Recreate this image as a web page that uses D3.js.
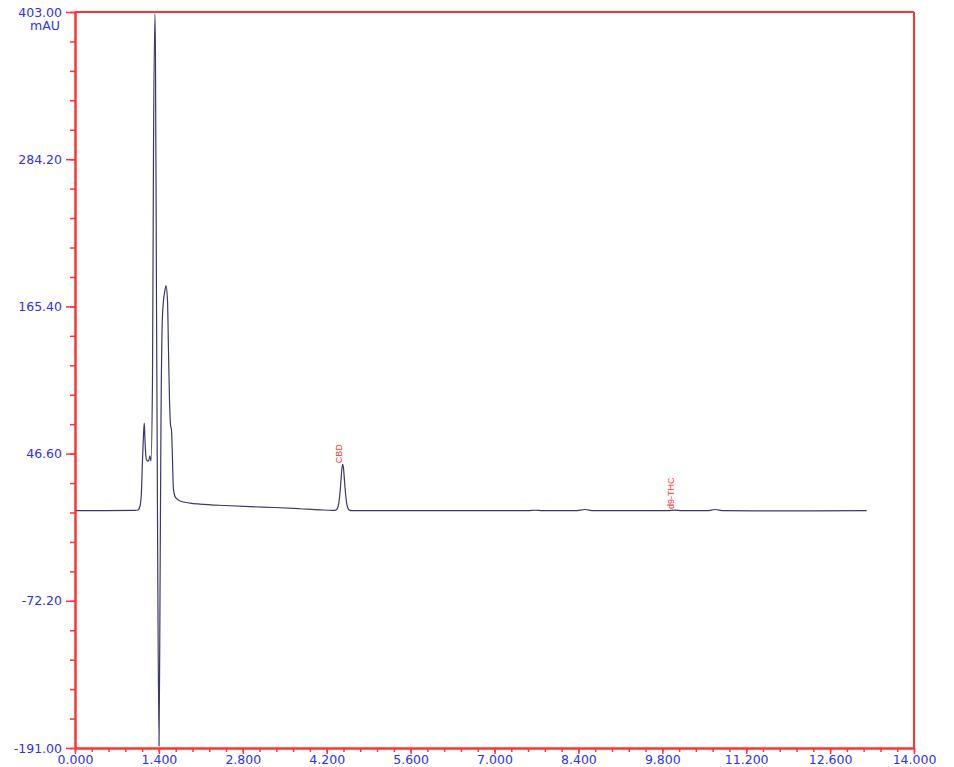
<!DOCTYPE html>
<html>
<head>
<meta charset="utf-8">
<script src="https://cdn.jsdelivr.net/npm/d3@7"></script>
<style>
  body { margin: 0; background: #fff; }
  .tick text { font-family: "DejaVu Sans", sans-serif; font-size: 12.5px; fill: #3030f0; }
</style>
</head>
<body>
<div id="chart"></div>
<script>
// chromatogram trace, time (min) and absorbance (mAU)
const traceTime = [0.02, 0.50, 1.00, 1.051, 1.085, 1.110, 1.126, 1.143, 1.156, 1.168, 1.181, 1.196, 1.226, 1.251, 1.268,
  1.293, 1.310, 1.335, 1.343, 1.360, 1.377, 1.402, 1.418, 1.435, 1.457, 1.473, 1.502, 1.518, 1.543, 1.560, 1.577,
  1.594, 1.610, 1.627, 1.640, 1.660, 1.685, 1.752, 1.919, 2.086, 2.503, 2.920, 3.337, 3.754, 4.088, 4.300,
  4.350, 4.380, 4.400, 4.420, 4.440, 4.455, 4.467, 4.480, 4.495, 4.515, 4.535, 4.555, 4.580, 4.620, 5.20, 6.00,
  7.00, 7.55, 7.68, 7.80, 8.35, 8.51, 8.65, 9.20, 9.90, 10.01, 10.12, 10.55, 10.68, 10.82, 11.50, 12.30, 13.21];
const traceAbs = [0.6, 0.6, 0.8, 1.1, 4.3, 17.2, 41.4, 61.6, 71.3, 57.6, 45.5, 41.4, 40.6, 44.7, 40.6,
  106.0, 291.6, 401.4, 364.3, 170.6, -7.0, -189.4, -71.5, 73.7, 154.4, 168.2, 178.6, 182.1, 170.6, 130.2, 89.9,
  69.7, 65.7, 41.4, 19.7, 13.2, 10.8, 8.4, 6.7, 5.9, 4.7, 3.8, 3.1, 2.1, 1.2, 0.8,
  1.0, 2.5, 6.0, 14.0, 26.0, 35.0, 38.0, 35.0, 26.0, 14.0, 6.0, 2.5, 1.0, 0.6, 0.6, 0.6,
  0.6, 0.6, 0.9, 0.6, 0.6, 1.5, 0.6, 0.5, 0.5, 1.0, 0.5, 0.5, 1.5, 0.5, 0.4, 0.4, 0.5];

// named peaks
const peakNames = ["CBD", "d9-THC"];
const peakTimes = [4.467, 10.01];
const peakHeights = [38.0, 1.0];

// axis ticks
const xTicks = [0, 1.4, 2.8, 4.2, 5.6, 7.0, 8.4, 9.8, 11.2, 12.6, 14.0];
const xTickLabels = ["0.000", "1.400", "2.800", "4.200", "5.600", "7.000", "8.400", "9.800", "11.200", "12.600", "14.000"];
const yTicks = [403.0, 284.2, 165.4, 46.6, -72.2, -191.0];
const yTickLabels = ["403.00", "284.20", "165.40", "46.60", "-72.20", "-191.00"];
const yUnit = "mAU";

const red = "#ff3333";
const margin = { top: 12, right: 40, bottom: 19, left: 75 };
const W = 954, H = 767;
const width = W - margin.left - margin.right;
const height = H - margin.top - margin.bottom;

const svg = d3.select("#chart").append("svg")
    .attr("width", W)
    .attr("height", H)
  .append("g")
    .attr("transform", `translate(${margin.left},${margin.top})`);

const x = d3.scaleLinear().domain([0, 14]).range([0, width]);
const y = d3.scaleLinear().domain([-191, 403]).range([height, 0]);

// minor ticks, 5 intervals between majors
const xMinor = d3.range(0, 51).map(i => i * 0.28);
const yMinor = d3.range(0, 26).map(i => -191 + i * 23.76);

svg.append("g")
    .attr("transform", `translate(0,${height})`)
    .call(d3.axisBottom(x).tickValues(xMinor).tickSize(4).tickFormat("").tickSizeOuter(0));
svg.append("g")
    .call(d3.axisLeft(y).tickValues(yMinor).tickSize(5).tickFormat("").tickSizeOuter(0));

svg.append("g")
    .attr("class", "xaxis")
    .attr("transform", `translate(0,${height})`)
    .call(d3.axisBottom(x).tickValues(xTicks).tickSize(6).tickPadding(1).tickSizeOuter(0)
        .tickFormat((d, i) => xTickLabels[i]));
svg.append("g")
    .attr("class", "yaxis")
    .call(d3.axisLeft(y).tickValues(yTicks).tickSize(9).tickPadding(4).tickSizeOuter(0)
        .tickFormat((d, i) => yTickLabels[i]));

svg.selectAll(".domain, .tick line")
    .attr("stroke", red)
    .attr("stroke-width", 2);
svg.selectAll(".tick line").attr("stroke-width", 1.5);

svg.append("text")
    .attr("x", -15)
    .attr("y", y(403) + 14)
    .attr("dy", "0.32em")
    .attr("text-anchor", "end")
    .style("font-family", "DejaVu Sans, sans-serif")
    .style("font-size", "12.5px")
    .style("fill", "#3030f0")
    .text(yUnit);

// top and right frame
svg.append("line")
    .attr("x1", x(0)).attr("x2", x(14))
    .attr("y1", y(403)).attr("y2", y(403))
    .attr("stroke", red).attr("stroke-width", 2);
svg.append("line")
    .attr("x1", x(14)).attr("x2", x(14))
    .attr("y1", y(403)).attr("y2", y(-191))
    .attr("stroke", red).attr("stroke-width", 2);

const trace = traceTime.map((t, i) => ({ t: t, v: traceAbs[i] }));
const line = d3.line()
    .x(d => x(d.t))
    .y(d => y(d.v))
    .curve(d3.curveMonotoneX);

svg.append("path")
    .datum(trace)
    .attr("fill", "none")
    .attr("stroke", "#3a3a68")
    .attr("stroke-width", 1.2)
    .attr("d", line);

// peak labels, rotated
svg.selectAll(".peak")
    .data(peakNames)
    .enter().append("text")
    .attr("class", "peak")
    .attr("transform", (d, i) => `translate(${x(peakTimes[i]) - 1},${y(peakHeights[i]) - 1}) rotate(-90)`)
    .style("font-family", "Liberation Sans, Arial, sans-serif")
    .style("font-size", "9px")
    .style("fill", red)
    .text(d => d);
</script>
</body>
</html>
